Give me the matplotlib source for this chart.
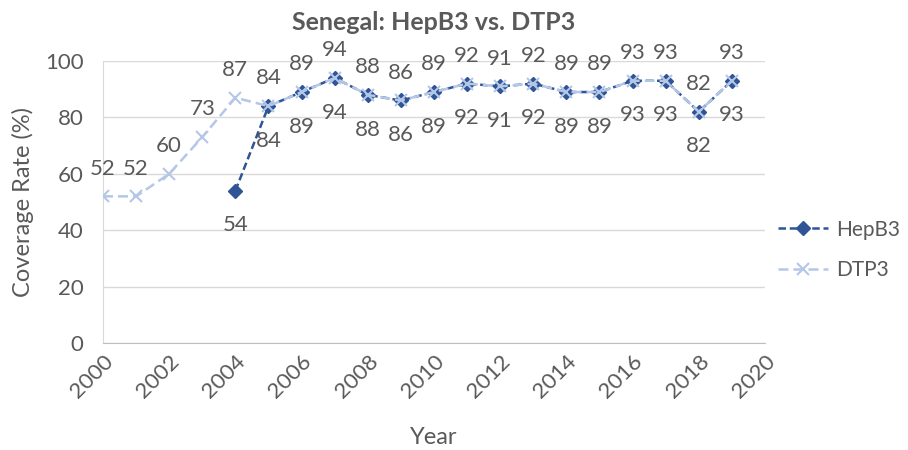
import matplotlib.pyplot as plt
import numpy as np

plt.rcParams['font.family'] = ['Lato', 'DejaVu Sans']

# coverage data
years = np.arange(2000, 2020)
dtp3 = [52, 52, 60, 73, 87, 84, 89, 94, 88, 86, 89, 92, 91, 92, 89, 89, 93, 93, 82, 93]
hepb3_years = np.arange(2004, 2020)
hepb3 = [54, 84, 89, 94, 88, 86, 89, 92, 91, 92, 89, 89, 93, 93, 82, 93]

txt = '#595959'
c_hep = '#2F5597'
c_dtp = '#B4C7E7'

fig = plt.figure(figsize=(9.08, 4.5), dpi=100)
ax = fig.add_axes([0.1134, 0.2378, 0.7291, 0.6266])

ax.plot(hepb3_years, hepb3, color=c_hep, ls=(0, (3, 1.5)), lw=1.8,
        marker='D', ms=7, label='HepB3', zorder=3)
ax.plot(years, dtp3, color=c_dtp, ls=(0, (4, 2)), lw=1.8,
        marker='x', ms=9, mew=1.5, label='DTP3', zorder=4)

# data labels: DTP3 above, HepB3 below
for x, y in zip(years, dtp3):
    ax.annotate(str(y), (x, y), xytext=(0, 20), textcoords='offset points',
                ha='center', va='center', fontsize=16, color=txt)
for x, y in zip(hepb3_years, hepb3):
    ax.annotate(str(y), (x, y), xytext=(0, -25), textcoords='offset points',
                ha='center', va='center', fontsize=16, color=txt)

ax.set_xlim(2000, 2020)
ax.set_ylim(0, 100)
ax.set_xticks(np.arange(2000, 2021, 2))
ax.set_yticks(np.arange(0, 101, 20))
ax.tick_params(axis='x', rotation=45, labelsize=16, colors=txt, length=0, pad=6)
ax.tick_params(axis='y', labelsize=16, colors=txt, length=0, pad=14)
for lab in ax.get_xticklabels():
    lab.set_ha('right')
    lab.set_rotation_mode('anchor')

ax.grid(axis='y', color='#D9D9D9', lw=1)
ax.set_axisbelow(True)
for s in ['top', 'right']:
    ax.spines[s].set_visible(False)
ax.spines['left'].set_color('#D9D9D9')
ax.spines['bottom'].set_color('#BFBFBF')

ax.set_xlabel('Year', fontsize=17, color=txt, labelpad=18)
ax.set_ylabel('Coverage Rate (%)', fontsize=17, color=txt, labelpad=8)
ax.set_title('Senegal: HepB3 vs. DTP3', fontsize=18, fontweight='bold', color=txt, pad=22)

leg = ax.legend(loc='center left', bbox_to_anchor=(778 / 908, 1 - 250 / 450),
                bbox_transform=fig.transFigure, frameon=False, borderaxespad=0,
                borderpad=0, fontsize=15, labelcolor=txt, handlelength=2.4,
                handletextpad=0.4, labelspacing=1.0)

fig.savefig('out.png', dpi=100)
